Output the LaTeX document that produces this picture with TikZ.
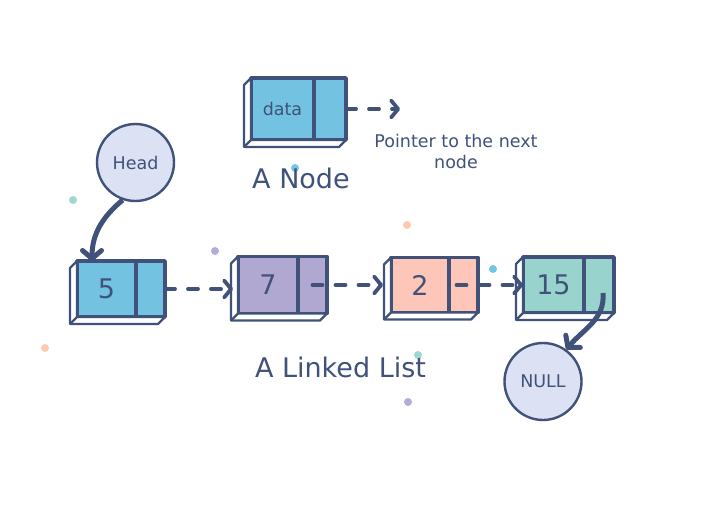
\documentclass[tikz,border=0pt]{standalone}
\usepackage{fontspec}
\setmainfont{DejaVu Sans}
\usetikzlibrary{arrows.meta, positioning}
\definecolor{ink}{HTML}{405279}
\definecolor{cellblue}{HTML}{73C2E1}
\definecolor{cellpurple}{HTML}{B1A8D2}
\definecolor{cellpink}{HTML}{FEC6B9}
\definecolor{cellteal}{HTML}{99D3CD}
\definecolor{circfill}{HTML}{DCE2F3}
\definecolor{dotteal}{HTML}{9DD8D0}
\definecolor{dotpurple}{HTML}{B6ABD8}
\definecolor{dotorange}{HTML}{FDC9B0}
\definecolor{dotblue}{HTML}{72C6E6}
\newcommand*{\sidefaces}[2]{%
  \draw[face] (#1.north west) -- ++(-7,-7) -- ([shift={(-7,-7)}]#1.south west)
    -- ([shift={(-7,-7)}]#2.south east) -- (#2.south east) -- (#1.south west) -- cycle;
  \draw[face] (#1.south west) -- ++(-7,-7);}

\begin{document}
\begin{tikzpicture}[x=1pt, y=1pt, >={Straight Barb[round, length=7pt, width=17pt]},
      cell/.style={draw=ink, line width=3.4pt, outer sep=0pt, inner sep=0pt, text=ink,
        line join=round, font=\fontsize{27}{32}\selectfont},
      face/.style={draw=ink, fill=white, line width=2.4pt, line join=round},
      circ/.style={circle, draw=ink, fill=circfill, line width=2.4pt, minimum size=77pt,
        text=ink, font=\fontsize{17.5}{21}\selectfont},
      link/.style={->, draw=ink, line width=3.8pt, line cap=round, dash pattern=on 10pt off 13pt},
      curl/.style={-{Straight Barb[round, length=8pt, width=19pt]}, draw=ink, line width=5pt},
      title/.style={text=ink, font=\fontsize{27}{32}\selectfont, anchor=base}]
      \useasboundingbox (0,0) rectangle (702,-506);
      \foreach \x/\y/\c in {73/200/dotteal, 215/251/dotpurple, 407/225/dotorange, 295/168/dotblue,
          493/269/dotblue, 418/355/dotteal, 45/348/dotorange, 408/402/dotpurple}
        \fill[\c] (\x,-\y) circle (4pt);

      % a node
      \node[cell, fill=cellblue, minimum width=63pt, minimum height=62pt,
        font=\fontsize{17.5}{21}\selectfont] (n_d) at (282.5,-109) {data};
      \node[cell, fill=cellblue, minimum width=32pt, minimum height=62pt, right=0pt of n_d] (p_d) {};
      \sidefaces{n_d}{p_d}
      \coordinate (tip) at (400,-109);
      \draw[link] (p_d.east) -- (tip);
      \node[text=ink, align=center, font=\fontsize{17.5}{21}\selectfont] (hint) at (456,-151)
        {Pointer to the next\\node};
      \node[title] (t_node) at (301,-188) {A Node};

      % the list
      \node[cell, fill=cellblue, minimum width=59pt, minimum height=56pt] (n_5) at (106.5,-289) {5};
      \node[cell, fill=cellblue, minimum width=29pt, minimum height=56pt, right=0pt of n_5] (p_5) {};
      \node[cell, fill=cellpurple, minimum width=60pt, minimum height=57pt] (n_7) at (268,-285) {7};
      \node[cell, fill=cellpurple, minimum width=29pt, minimum height=57pt, right=0pt of n_7] (p_7) {};
      \node[cell, fill=cellpink, minimum width=58pt, minimum height=55pt] (n_2) at (420,-285) {2};
      \node[cell, fill=cellpink, minimum width=29pt, minimum height=55pt, right=0pt of n_2] (p_2) {};
      \node[cell, fill=cellteal, minimum width=61pt, minimum height=56pt] (n_15) at (553.5,-285) {15};
      \node[cell, fill=cellteal, minimum width=30pt, minimum height=56pt, right=0pt of n_15] (p_15) {};
      \sidefaces{n_5}{p_5}
      \sidefaces{n_7}{p_7}
      \sidefaces{n_2}{p_2}
      \sidefaces{n_15}{p_15}
      \draw[link] (p_5.east) -- ([xshift=-5pt]n_7.west |- p_5.east);
      \draw[link] (p_7.center) -- ([xshift=-8pt]n_2.west |- p_7.center);
      \draw[link] ([xshift=-7pt]p_2.center) -- (n_15.west |- p_2.center);

      \node[circ] (head) at (135.5,-162.5) {Head};
      \node[circ] (null) at (543,-381.5) {NULL};
      \draw[curl] (head.-109) to[out=-140, in=90] ([xshift=15pt]n_5.north west);
      \draw[curl] ([xshift=4pt,yshift=-8pt]p_15.center) to[out=-85, in=50] (null.54);
      \node[title] (t_list) at (340.5,-377) {A Linked List};
    \end{tikzpicture}
\end{document}
